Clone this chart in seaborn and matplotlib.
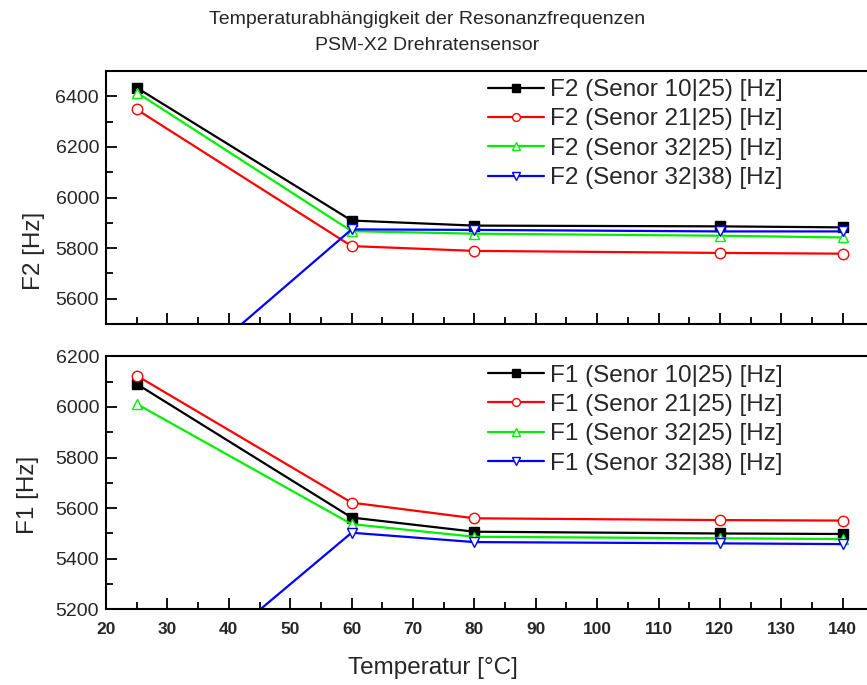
import numpy as np
import pandas as pd
import matplotlib
matplotlib.use('Agg')
import matplotlib.pyplot as plt
from matplotlib.ticker import MultipleLocator
import seaborn as sns

### data
temps = [25, 60, 80, 120, 140]

# F2 resonance [Hz]
f2_s10_25 = [6434, 5909, 5889, 5886, 5882]
f2_s21_25 = [6348, 5808, 5789, 5781, 5778]
f2_s32_25 = [6415, 5867, 5857, 5849, 5842]
f2_s32_38 = [5143, 5874, 5872, 5866, 5866]

# F1 resonance [Hz]
f1_s10_25 = [6091, 5563, 5507, 5500, 5498]
f1_s21_25 = [6124, 5622, 5560, 5553, 5551]
f1_s32_25 = [6012, 5537, 5487, 5481, 5478]
f1_s32_38 = [4790, 5503, 5466, 5461, 5458]

sensors = ['10|25', '21|25', '32|25', '32|38']
colors = ['black', '#ff0000', '#00ee00', '#0000ff']
markers = ['s', 'o', '^', 'v']

sns.set_style('white')
plt.rcParams['font.family'] = ['Liberation Sans', 'DejaVu Sans']

fig = plt.figure(figsize=(8.67, 6.85), dpi=100)
ax_top = fig.add_axes([0.1223, 0.527, 0.878, 0.3693])
ax_bot = fig.add_axes([0.1223, 0.1104, 0.878, 0.3693])


def draw(ax, series, name):
    for vals, sensor, c, m in zip(series, sensors, colors, markers):
        df = pd.DataFrame({'temp': temps, 'freq': vals})
        sns.lineplot(data=df, x='temp', y='freq', ax=ax, color=c, lw=1.6,
                     marker=m, markersize=7.5, markeredgewidth=1.0,
                     markerfacecolor=c if m == 's' else 'white', markeredgecolor=c,
                     label=f'{name} (Senor {sensor}) [Hz]')


draw(ax_top, [f2_s10_25, f2_s21_25, f2_s32_25, f2_s32_38], 'F2')
draw(ax_bot, [f1_s10_25, f1_s21_25, f1_s32_25, f1_s32_38], 'F1')

ax_top.set_ylim(5500, 6500)
ax_bot.set_ylim(5200, 6200)

for ax in (ax_top, ax_bot):
    ax.set_xlim(20, 144)
    ax.xaxis.set_major_locator(MultipleLocator(10))
    ax.xaxis.set_minor_locator(MultipleLocator(5))
    ax.yaxis.set_major_locator(MultipleLocator(200))
    ax.yaxis.set_minor_locator(MultipleLocator(100))
    ax.tick_params(which='both', direction='in', top=False, right=False,
                   bottom=True, left=True, width=1.3, color='black')
    ax.tick_params(which='major', length=8)
    ax.tick_params(which='minor', length=5)
    ax.tick_params(axis='y', labelsize=14, pad=5)
    ax.tick_params(axis='x', labelsize=12.5, pad=9)
    for lab in ax.get_xticklabels():
        lab.set_fontweight('bold')
    for s in ['left', 'bottom', 'top']:
        ax.spines[s].set_visible(True)
        ax.spines[s].set_color('black')
        ax.spines[s].set_linewidth(1.5)
    ax.spines['right'].set_visible(False)
    ax.set_xlabel('')

ax_top.tick_params(axis='x', labelbottom=False)
ax_top.yaxis.set_major_locator(plt.FixedLocator([5600, 5800, 6000, 6200, 6400]))

ax_top.set_ylabel('F2 [Hz]', fontsize=17.5)
ax_top.yaxis.set_label_coords(-0.095, 0.289)
ax_top.yaxis.label.set_va('center')
ax_bot.set_ylabel('F1 [Hz]', fontsize=17.5)
ax_bot.yaxis.set_label_coords(-0.103, 0.452)
ax_bot.yaxis.label.set_va('center')

ax_bot.set_xlabel('Temperatur [°C]', fontsize=17.5)
ax_bot.xaxis.set_label_coords(0.43, -0.232)
ax_bot.xaxis.label.set_va('center')

for ax, ytop in ((ax_top, 0.8845), (ax_bot, 0.4677)):
    ax.legend(loc='upper left', bbox_to_anchor=(0.5629, ytop), bbox_transform=fig.transFigure,
              frameon=False, fontsize=17.5, handlelength=2.3, handletextpad=0.25,
              labelspacing=0.3, borderpad=0, borderaxespad=0, markerscale=0.75)

fig.suptitle('Temperaturabhängigkeit der Resonanzfrequenzen\nPSM-X2 Drehratensensor',
             x=0.4925, y=0.9526, va='center', fontsize=14, linespacing=1.75)

fig.savefig('out.png', dpi=100)
